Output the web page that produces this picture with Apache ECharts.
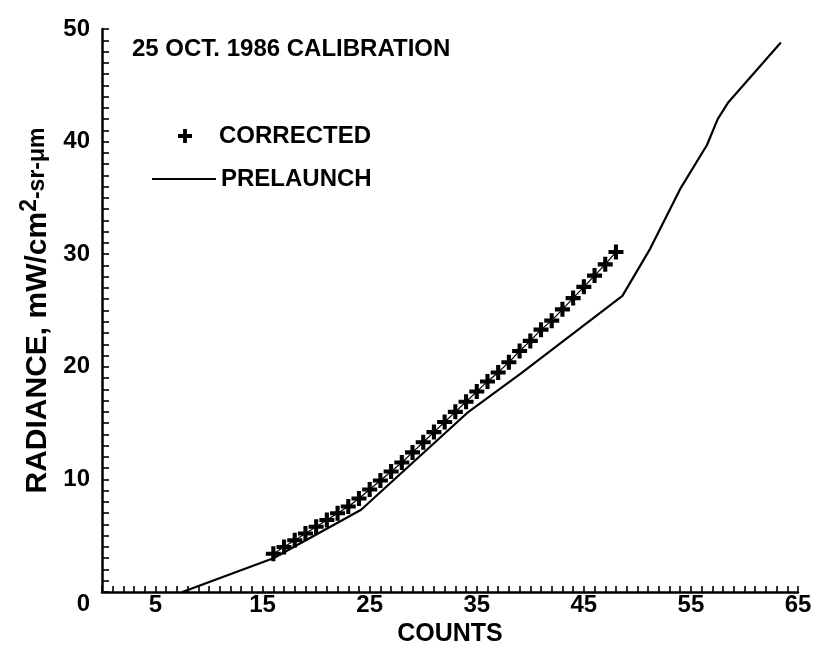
<!DOCTYPE html>
<html>
<head>
<meta charset="utf-8">
<script src="https://cdn.jsdelivr.net/npm/echarts@6/dist/echarts.min.js"></script>
<style>html,body{margin:0;padding:0;background:#fff}#c{width:821px;height:658px}</style>
</head>
<body>
<div id="c"></div>
<script>
// Corrected calibration (counts -> radiance)
var correctedCounts = [16,17,18,19,20,21,22,23,24,25,26,27,28,29,30,31,32,33,34,35,36,37,38,39,40,41,42,43,44,45,46,47,48];
var correctedRadiance = [3.4,4.0,4.6,5.2,5.8,6.4,7.0,7.6,8.3,9.1,9.9,10.7,11.5,12.4,13.3,14.2,15.1,16.0,16.9,17.8,18.7,19.5,20.4,21.4,22.3,23.3,24.1,25.1,26.1,27.1,28.1,29.1,30.2];
// Prelaunch calibration curve
var prelaunchCounts = [7.5,16,24.2,34.1,39.1,48.6,51.2,54.0,56.5,57.5,58.5,63.4];
var prelaunchRadiance = [0,3.0,7.3,15.9,19.4,26.3,30.5,35.8,39.7,42.0,43.5,48.8];
var xTickLabels = [5,15,25,35,45,55,65];
var yTickLabels = [0,10,20,30,40,50];
var seriesNames = ['CORRECTED','PRELAUNCH'];
var titleText = '25 OCT. 1986 CALIBRATION';
var xName = 'COUNTS';

var FONT = 'Liberation Sans';
var plus = 'path://M4,0H7V4H11V7H7V11H4V7H0V4H4Z';
function pairs(xs, ys){ return xs.map(function(x,i){return [x, ys[i]];}); }

var chart = echarts.init(document.getElementById('c'));
chart.setOption({
  animation:false,
  backgroundColor:'#fff',
  title:{text:titleText,left:132,top:37,padding:0,textStyle:{fontFamily:FONT,fontWeight:'bold',fontSize:24,color:'#000'}},
  legend:[
    {data:[{name:seriesNames[0],icon:plus}],left:178,top:124,padding:0,itemWidth:14,itemHeight:14,
     textStyle:{fontFamily:FONT,fontWeight:'bold',fontSize:24,color:'#000',padding:[0,0,0,22]}},
    {data:[{name:seriesNames[1],icon:'rect'}],left:152,top:167,padding:0,itemWidth:64,itemHeight:2,
     textStyle:{fontFamily:FONT,fontWeight:'bold',fontSize:24,color:'#000',padding:[0,0,0,0]}}
  ],
  grid:{left:102,right:23,top:29,bottom:66,containLabel:false},
  xAxis:{type:'value',min:0,max:65,interval:1,name:xName,nameLocation:'middle',nameGap:30,
    nameTextStyle:{fontFamily:FONT,fontWeight:'bold',fontSize:25,color:'#000'},
    axisLine:{lineStyle:{color:'#000',width:2.5}},
    axisTick:{inside:true,length:6,lineStyle:{color:'#000',width:1.6}},
    axisLabel:{margin:1,fontFamily:FONT,fontWeight:'bold',fontSize:24,color:'#000',
      formatter:function(v){return xTickLabels.indexOf(v)>=0?String(v):'';}},
    splitLine:{show:false}},
  yAxis:{type:'value',min:0,max:50,interval:1,name:'{a|RADIANCE, mW/cm}{s|2}{b|-sr-μm}',nameLocation:'middle',nameGap:40,nameRotate:90,
    nameTextStyle:{fontFamily:FONT,fontWeight:'bold',color:'#000',
      rich:{a:{fontFamily:FONT,fontWeight:'bold',fontSize:30,color:'#000',lineHeight:36},
            s:{fontFamily:FONT,fontWeight:'bold',fontSize:23,color:'#000',padding:[0,0,16,0]},
            b:{fontFamily:FONT,fontWeight:'bold',fontSize:23,color:'#000'}}},
    axisLine:{lineStyle:{color:'#000',width:2.5}},
    axisTick:{inside:true,length:7,lineStyle:{color:'#000',width:1.6}},
    axisLabel:{margin:12,fontFamily:FONT,fontWeight:'bold',fontSize:24,color:'#000',
      formatter:function(v){ if(v===0) return '{o|0}'; return yTickLabels.indexOf(v)>=0?String(v):'';},
      rich:{o:{fontFamily:FONT,fontWeight:'bold',fontSize:24,color:'#000',padding:[24,0,0,0]}}},
    splitLine:{show:false}},
  series:[
    {name:seriesNames[0],type:'line',data:pairs(correctedCounts,correctedRadiance),symbol:plus,symbolSize:15,showSymbol:true,
     symbolKeepAspect:true,lineStyle:{color:'#000',width:1.2},itemStyle:{color:'#000',opacity:1},z:3},
    {name:seriesNames[1],type:'line',data:pairs(prelaunchCounts,prelaunchRadiance),showSymbol:false,symbol:'none',
     lineStyle:{color:'#000',width:2.2},itemStyle:{color:'#000'},z:2}
  ]
});
</script>
</body>
</html>
